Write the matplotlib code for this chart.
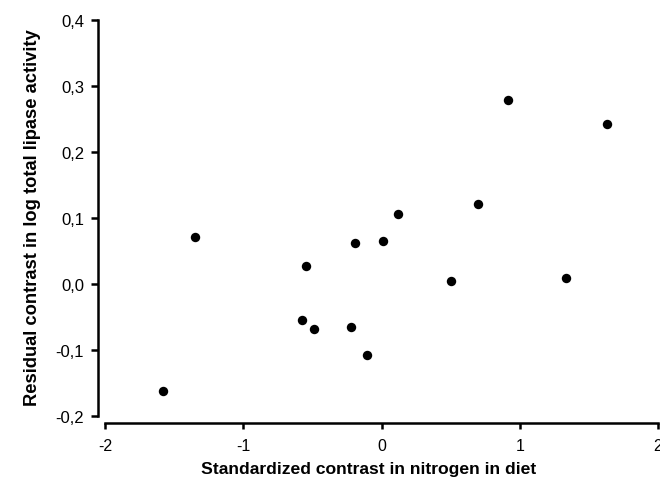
import matplotlib
matplotlib.use("Agg")
import matplotlib.pyplot as plt

plt.rcParams['font.family'] = ['Liberation Sans', 'DejaVu Sans']

x_vals = [0.912, 1.628, 0.696, 0.122, -1.347, -0.192, 0.014,
          -0.549, 0.500, 1.333, -0.575, -0.490, -0.221, -0.102, -1.579]
y_vals = [0.279, 0.243, 0.121, 0.1055, 0.071, 0.0616, 0.0657,
          0.0278, 0.005, 0.0096, -0.0545, -0.068, -0.065, -0.108, -0.1626]

x_ticks = [-2, -1, 0, 1, 2]
x_ticklabels = ['-2', '-1', '0', '1', '2']
y_ticks = [-0.2, -0.1, 0.0, 0.1, 0.2, 0.3, 0.4]
y_ticklabels = ['-0,2', '-0,1', '0,0', '0,1', '0,2', '0,3', '0,4']

xlabel = 'Standardized contrast in nitrogen in diet'
ylabel = 'Residual contrast in log total lipase activity'

dpi = 100
fig = plt.figure(figsize=(6.6, 4.81), dpi=dpi)
ax = fig.add_axes([105/660, 64/481, 553/660, 396/481])

ax.scatter(x_vals, y_vals, s=46, color='black', zorder=3, linewidths=0)

ax.set_xlim(-2, 2)
ax.set_ylim(-0.2, 0.4)
ax.set_xticks(x_ticks)
ax.set_xticklabels(x_ticklabels, family=['Liberation Serif', 'DejaVu Serif'])
ax.set_yticks(y_ticks)
ax.set_yticklabels(y_ticklabels)

for s in ['top', 'right']:
    ax.spines[s].set_visible(False)
for s in ['left', 'bottom']:
    ax.spines[s].set_linewidth(1.8)
    ax.spines[s].set_position(('outward', 5))

ax.tick_params(axis='y', direction='out', length=5, width=1.8, labelsize=12, pad=5)
ax.tick_params(axis='x', direction='out', length=4, width=1.8, labelsize=11.5, pad=7)

ax.set_xlabel(xlabel, fontsize=12.6, fontweight='bold')
ax.set_ylabel(ylabel, fontsize=13.2, fontweight='bold')
ax.xaxis.set_label_coords(369/660, 1 - 462/481, transform=fig.transFigure)
ax.yaxis.set_label_coords(41/660, 1 - 218/481, transform=fig.transFigure)

fig.savefig('out.png', dpi=dpi)
